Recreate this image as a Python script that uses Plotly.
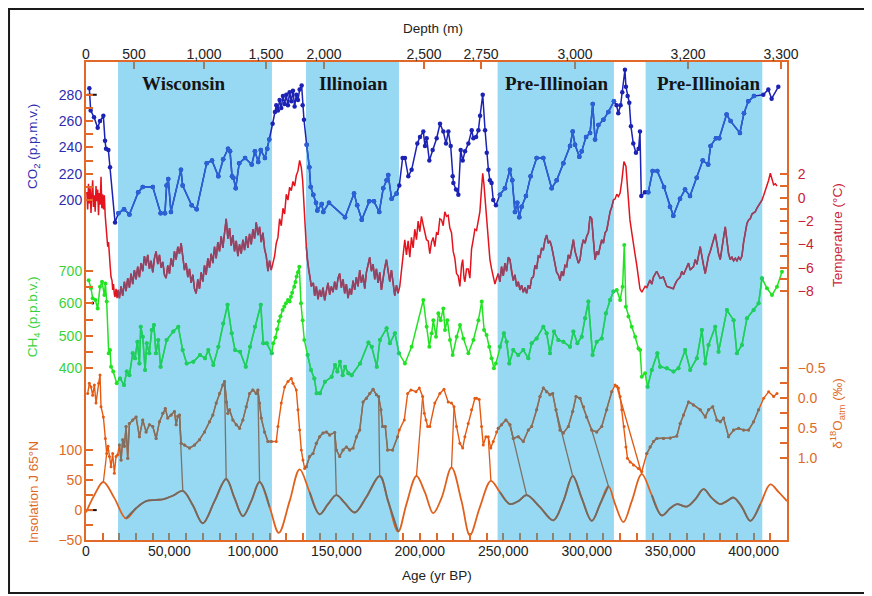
import plotly.graph_objects as go

# ---------------- data (ages in thousands of years BP) ----------------
co2_age = [2.0, 2.8, 4.8, 7.0, 8.4, 10.4, 11.4, 12.0, 13.4, 14.4, 17.4, 19.4, 22.8, 26.0, 31.3, 34.0, 40.0, 44.7,
           47.3, 48.3, 49.3, 50.9, 56.9, 57.9, 63.3, 66.3, 72.3, 75.5, 79.3, 82.2, 85.1, 86.3, 87.5, 88.3, 89.7,
           91.8, 95.3, 99.3, 101.2, 103.2, 104.7, 107.2, 108.6, 109.8, 111.8, 113.2, 114.0, 115.0, 116.0, 117.0,
           118.0, 119.0, 120.0, 121.0, 122.0, 123.0, 124.0, 125.0, 126.0, 127.0, 128.0, 129.2, 129.8, 130.6,
           132.2, 133.8, 134.6, 136.2, 137.8, 138.6, 141.2, 142.2, 145.6, 155.2, 160.6, 162.5, 165.2, 169.7,
           172.5, 175.7, 178.1, 180.1, 181.1, 183.1, 186.1, 187.7, 189.7, 191.1, 193.1, 195.1, 198.5, 200.1,
           202.1, 203.1, 204.1, 205.7, 207.7, 210.1, 212.1, 214.1, 215.7, 217.1, 218.5, 219.7, 220.1, 221.7,
           223.1, 224.5, 225.7, 227.1, 229.1, 231.1, 232.1, 233.7, 235.1, 236.1, 237.7, 239.1, 240.1, 241.1,
           242.0, 243.0, 244.0, 245.6, 248.0, 251.0, 254.0, 255.4, 257.0, 258.4, 259.6, 261.0, 263.6, 266.4,
           270.0, 274.0, 279.0, 282.0, 286.0, 290.0, 291.6, 293.0, 295.6, 297.0, 299.6, 302.0, 303.6, 305.0,
           307.0, 310.0, 313.0, 316.3, 317.9, 318.9, 320.3, 321.3, 322.9, 323.5, 324.5, 325.5, 326.5, 327.9,
           329.5, 331.1, 331.9, 332.7, 334.9, 336.9, 339.5, 342.3, 346.3, 349.9, 351.9, 355.9, 358.9, 361.9,
           365.9, 369.5, 372.8, 374.2, 377.4, 379.4, 383.8, 386.2, 391.8, 394.2, 396.8, 400.2, 405.8, 408.8,
           410.8, 414.8]
co2_ppmv = [285, 268, 263, 255, 260, 264, 245, 239, 238, 225, 183, 190, 193, 189, 206, 210, 210, 190,
            190, 211, 216, 191, 223, 211, 196, 193, 228, 230, 218, 231, 239, 237, 218, 217, 209,
            228, 232, 227, 237, 229, 238, 232, 239, 246, 258, 267, 272, 268, 276, 270,
            279, 273, 280, 272, 282, 275, 283, 271, 280, 276, 284, 287, 272, 261,
            242, 225, 210, 204, 198, 192, 197, 191, 198, 187, 205, 196, 185, 199,
            199, 191, 209, 215, 219, 201, 205, 211, 232, 232, 218, 223, 243, 248,
            252, 241, 247, 230, 238, 247, 258, 252, 243, 252, 241, 218, 213, 208,
            204, 238, 230, 237, 243, 253, 247, 248, 253, 264, 280, 253, 236, 223,
            215, 213, 200, 196, 204, 209, 223, 215, 191, 198, 187, 195, 203, 218,
            232, 232, 209, 215, 228, 241, 252, 242, 233, 237, 248, 251, 273, 246,
            257, 261, 267, 275, 272, 266, 272, 282, 299, 286, 279, 274, 256, 243,
            236, 239, 252, 203, 206, 206, 222, 222, 210, 195, 188, 201, 208, 203,
            217, 230, 227, 241, 247, 247, 265, 260, 251, 266, 275, 279, 280, 284,
            277, 286]

temp_age = [0.5, 1.0, 1.5, 2.0, 2.5, 3.0, 3.5, 4.0, 4.5, 5.0, 5.5, 6.0, 6.5, 7.0, 7.5, 8.0, 8.5, 9.0, 9.5, 10.0,
            10.5, 11.0, 11.5, 12.0, 12.5, 13.0, 13.5, 14.0, 14.5, 15.0, 15.6, 16.0, 16.5, 17.0, 17.4, 18.0, 18.6,
            19.2, 20, 21, 22, 23, 24, 25, 26, 27, 28, 29, 30, 31, 32, 33, 34, 35, 36, 37, 38, 39, 40, 41, 42, 43,
            44, 45, 46, 47, 48, 49, 50, 51, 52, 53, 54, 55, 56, 57, 58, 59, 60, 61, 62, 63, 64, 65, 66, 67, 68,
            69, 70, 71, 72, 73, 74, 75, 76, 77, 78, 79, 80, 81, 82, 83, 84, 85, 86, 87, 88, 89, 90, 91, 92, 93,
            94, 95, 96, 97, 98, 99, 100, 101, 102, 103, 104, 105, 106, 107, 108, 109, 110, 111, 112, 113, 114,
            115, 116, 117, 118, 119, 120, 121, 122, 123, 124, 125, 126, 127, 128, 129, 129.8, 130.5, 131.2, 132,
            132.6, 133.4, 134.2, 135, 136.2, 137, 138, 139, 140, 141, 142, 143, 144, 145, 146, 147, 148, 149, 150,
            151, 152, 153, 154, 155, 156, 157, 158, 159, 160, 161, 162, 163, 164, 165, 166, 167, 168, 169, 170,
            171, 172, 173, 174, 175, 176, 177, 178, 179, 180, 181, 182, 183, 184, 185, 186, 187, 188, 189, 190,
            191, 192, 193, 194, 195, 196, 197, 198, 199, 200, 201, 202, 203, 204, 205, 206, 207, 208, 209, 210,
            211, 212, 213, 214, 215, 216, 217, 218, 219, 220, 221, 222, 223, 224, 225, 225.7, 226.5, 227, 228,
            229, 230, 231, 232, 233, 234, 235, 236, 237, 237.7, 238.4, 239, 240, 241, 242, 243, 244, 245, 246,
            247, 248, 249, 250, 251, 252, 253, 254, 255, 256, 257, 258, 259, 260, 261, 262, 263, 264, 265, 266,
            267, 268, 269, 270, 271, 272, 273, 274, 275, 276, 277, 278, 279, 280, 281, 282, 283, 284, 285, 286,
            287, 288, 289, 290, 291, 292, 293, 294, 295, 296, 297, 298, 299, 300, 301, 302, 303, 304, 305, 306,
            307, 308, 309, 310, 311, 312, 313, 314, 315, 316, 317, 318, 319, 320, 321, 322.3, 323.5, 324.5,
            325.9, 327, 328, 328.9, 330, 331, 331.9, 333, 333.9, 335, 336, 337.9, 339, 340, 341.9, 343, 344,
            345.9, 347, 348, 350, 351.9, 353, 354, 356, 357, 358, 360, 361, 362, 364, 365, 366, 368, 369, 370,
            371, 372, 373, 374, 375, 376, 377, 378, 379, 380, 381, 382, 383, 384, 385, 386, 387, 388, 389, 390,
            391, 392, 393, 394, 395, 396, 397, 398, 399, 400, 401, 402, 403, 404, 405, 406, 407, 408, 409, 410,
            411, 412, 413, 414]
temp_c = [0.5, -1.0, 1.2, -0.5, 0.8, -1.3, 0.3, 1.5, -0.8, 0.2, -1.2, 1.0, -0.3, 0.7, -1.5, 0.4, -0.6, 1.8, -0.9, 0.3,
          -1.0, 0.2, -1.5, -2.2, -3.0, -4.2, -3.8, -5.5, -5.9, -6.8, -7.1, -7.9, -7.4, -8.3, -8.5, -7.8, -8.6,
          -7.9, -8.6, -7.6, -8.4, -7.2, -8.0, -6.9, -7.7, -6.5, -7.4, -6.2, -7.0, -5.9, -6.8, -5.6, -6.3, -5.0,
          -5.8, -4.9, -6.1, -5.4, -6.4, -5.2, -4.6, -5.7, -4.9, -6.0, -5.5, -6.6, -6.9, -5.8, -6.5, -5.2, -5.9,
          -4.6, -5.3, -4.2, -4.8, -3.9, -5.0, -6.2, -5.6, -6.8, -6.1, -7.3, -6.6, -7.8, -8.2, -7.0, -7.8, -6.4,
          -7.2, -5.8, -6.6, -5.2, -6.0, -4.8, -5.6, -4.2, -5.2, -3.8, -4.6, -3.3, -4.3, -2.9, -1.8, -3.5, -2.6,
          -4.1, -3.2, -4.6, -3.7, -5.0, -4.0, -4.8, -3.6, -4.5, -3.3, -4.3, -3.1, -4.0, -2.7, -3.5, -2.1, -3.2,
          -2.5, -3.8, -3.0, -4.4, -5.0, -6.3, -5.4, -6.2, -5.6, -5.0, -3.9, -3.4, -1.8, -2.4, -0.9, -1.4, 0.3,
          -0.2, 0.9, 0.6, 1.4, 1.0, 1.9, 2.3, 3.2, 2.6, 1.5, -0.6, -2.8, -4.2, -5.3, -6.2, -6.8, -7.6, -7.3,
          -8.4, -7.6, -8.7, -7.9, -8.5, -7.7, -8.8, -8.0, -7.3, -8.3, -7.6, -8.1, -7.2, -7.9, -6.9, -6.5, -7.7,
          -7.0, -8.2, -7.4, -8.6, -7.8, -8.3, -7.1, -7.9, -6.8, -7.6, -6.2, -7.3, -6.6, -7.8, -6.4, -5.6, -5.1,
          -6.3, -5.7, -7.0, -6.1, -7.3, -6.4, -7.9, -6.8, -6.0, -5.3, -6.5, -7.2, -6.2, -7.6, -8.4, -7.5, -8.2,
          -7.6, -6.4, -5.3, -3.6, -4.9, -3.7, -5.1, -3.4, -4.3, -2.7, -3.6, -2.0, -2.9, -1.6, -2.3, -2.9, -3.6,
          -3.7, -4.8, -3.8, -3.4, -4.2, -3.0, -3.1, -1.8, -1.9, -2.4, -1.2, -1.6, -1.5, -2.6, -3.0, -4.6, -5.2,
          -6.5, -6.7, -7.6, -5.8, -5.3, -6.9, -7.2, -6.1, -6.1, -6.9, -4.4, -3.6, -2.7, -2.8, -2.0, -1.2, 0.8,
          2.1, 1.2, 0.1, -1.8, -3.6, -5.3, -6.1, -6.8, -7.4, -6.9, -6.5, -7.2, -5.9, -6.7, -5.6, -6.3, -5.1,
          -5.3, -6.4, -7.1, -6.6, -7.6, -7.2, -7.9, -7.5, -8.1, -7.7, -8.2, -7.5, -7.8, -6.9, -6.8, -5.8, -6.1,
          -5.0, -5.1, -4.3, -4.5, -3.6, -3.2, -3.9, -3.7, -4.2, -5.0, -5.6, -6.4, -6.6, -7.1, -6.3, -6.7, -5.8,
          -5.9, -4.9, -5.2, -4.4, -3.6, -4.6, -5.1, -5.6, -5.3, -4.2, -3.6, -3.9, -3.3, -3.0, -1.6, -1.8, -3.6,
          -5.3, -4.6, -4.9, -4.2, -3.6, -3.9, -3.0, -2.8, -1.9, -1.2, -0.8, -0.2, -0.1, 0.3, 0.1, 0.4, 1.4, 3.1,
          2.7, 0.8, -1.9, -3.0, -3.8, -4.8, -5.8, -6.9, -7.8, -8.1, -7.9, -7.6, -7.7, -7.05, -7.4, -6.8, -6.3,
          -6.6, -6.9, -6.8, -7.3, -7.6, -7.7, -7.8, -7.4, -7.1, -6.8, -6.3, -6.6, -5.9, -5.6, -6.2, -5.9, -5.3,
          -5.7, -4.2, -5.2, -5.8, -6.5, -5.6, -5.0, -4.6, -4.0, -3.6, -3.1, -4.0, -4.8, -5.3, -4.2, -3.4, -2.5,
          -3.8, -4.8, -5.3, -5.1, -5.4, -5.2, -5.4, -5.1, -5.3, -5.0, -3.8, -2.8, -2.2, -1.9, -1.8, -1.4, -1.3,
          -1.2, -0.9, -0.7, -0.4, -0.2, 0.2, 0.6, 1.0, 1.5, 2.1, 1.5, 1.1, 1.2, 1.0]

ch4_age = [1.6, 3.0, 4.0, 5.6, 7.0, 8.4, 9.6, 11.0, 11.6, 12.4, 13.6, 14.4, 15.0, 16.3, 18.4, 20.4, 22.8, 24.4,
           26.0, 28.0, 29.4, 30.8, 32.0, 32.8, 34.0, 35.4, 36.4, 37.9, 39.4, 40.7, 41.9, 43.3, 44.7, 48.3, 52.3,
           55.3, 57.9, 60.3, 64.3, 68.3, 71.3, 73.3, 76.3, 79.3, 82.2, 84.8, 87.3, 89.3, 92.3, 95.7, 98.3, 101.2,
           104.7, 106.2, 108.3, 111.3, 112.2, 113.5, 114.5, 115.5, 116.5, 117.8, 118.8, 119.8, 121.0, 122.0,
           122.8, 123.5, 124.8, 125.5, 126.2, 127.0, 127.8, 128.8, 129.8, 130.8, 132.8, 134.8, 136.8, 138.2,
           140.2, 143.2, 147.2, 149.2, 150.6, 152.2, 153.8, 155.2, 157.2, 159.2, 164.2, 169.2, 171.2, 174.2,
           176.1, 180.1, 182.1, 185.1, 187.5, 191.1, 195.1, 202.1, 204.1, 205.7, 207.1, 208.1, 209.7, 211.1,
           212.5, 214.1, 215.1, 216.5, 218.1, 219.7, 222.1, 224.1, 226.1, 229.1, 232.1, 235.1, 237.1, 238.5,
           240.0, 241.6, 243.0, 244.4, 245.6, 248.0, 250.4, 252.0, 253.6, 256.0, 259.0, 262.0, 265.0, 267.0,
           270.0, 274.0, 276.0, 278.0, 280.4, 283.0, 286.0, 290.0, 292.0, 294.4, 297.0, 299.0, 301.0, 303.5,
           306.0, 309.0, 311.5, 314.0, 316.0, 318.0, 320.0, 321.5, 322.5, 323.5, 325.0, 327.0, 329.0, 331.0,
           332.0, 333.0, 335.0, 336.5, 339.0, 342.3, 344.0, 348.0, 352.0, 355.0, 359.0, 362.0, 366.0, 369.0,
           371.0, 373.0, 377.0, 379.0, 384.0, 388.0, 390.0, 393.0, 396.0, 400.0, 403.0, 405.0, 408.0, 411.0,
           414.0, 417.0]
ch4_ppbv = [671, 646, 615, 610, 584, 651, 666, 625, 661, 605, 446, 456, 405, 390, 354, 369, 349, 390,
            379, 446, 431, 482, 415, 528, 497, 395, 477, 446, 518, 533, 446, 487, 405, 487, 513,
            528, 456, 415, 420, 441, 431, 456, 410, 466, 538, 595, 508, 456, 451, 405, 466, 528,
            595, 477, 477, 446, 477, 495, 520, 545, 560, 579, 590, 600, 610, 605,
            620, 632, 651, 665, 682, 695, 712, 600, 548, 487, 441, 395, 369, 323,
            323, 359, 374, 410, 390, 420, 379, 405, 385, 379, 415, 479, 466, 405,
            487, 523, 477, 508, 446, 415, 466, 610, 528, 466, 508, 548, 497, 569,
            548, 584, 518, 548, 487, 441, 497, 533, 492, 446, 487, 548, 605, 518,
            502, 466, 431, 400, 415, 466, 508, 482, 415, 456, 441, 456, 431, 477,
            492, 528, 508, 446, 513, 487, 482, 466, 513, 477, 497, 554, 605, 441,
            482, 492, 569, 610, 636, 641, 610, 651, 779, 589, 559, 528, 497, 461,
            456, 374, 385, 343, 395, 446, 405, 400, 390, 400, 456, 395, 431, 518,
            415, 472, 528, 451, 579, 548, 446, 472, 554, 579, 600, 677, 646, 625,
            651, 697]

d18o_age = [1.0, 2.0, 3.0, 4.0, 5.0, 6.0, 7.6, 8.4, 9.0, 10.4, 11.6, 12.4, 13.2, 14.0, 15.0, 16.0, 17.0, 18.0,
            19.0, 20.0, 21.0, 22.0, 23.0, 24.0, 25.0, 26.0, 28.0, 30.0, 32.0, 34.0, 36.0, 38.0, 40.0, 42.0, 44.0,
            46.0, 47.5, 49.0, 51.0, 53.0, 54.0, 55.0, 56.0, 57.0, 59.0, 62.0, 65.0, 68.0, 71.0, 74.0, 76.0, 78.0,
            80.0, 82.0, 83.0, 84.0, 85.0, 86.0, 88.0, 90.0, 92.0, 94.0, 96.0, 98.0, 100.0, 102.0, 103.0, 104.0,
            105.0, 107.0, 109.0, 111.0, 114.0, 115.0, 117.0, 119.0, 121.0, 123.0, 124.0, 126.0, 127.0, 128.0,
            129.0, 130.0, 131.0, 132.0, 134.0, 136.0, 138.0, 140.0, 142.0, 144.0, 146.0, 149.0, 150.0, 152.0,
            154.0, 156.0, 158.0, 160.0, 162.0, 164.0, 166.0, 168.0, 170.0, 172.0, 174.0, 175.3, 176.7, 177.7,
            179.3, 180.7, 183.7, 186.7, 187.7, 190.7, 192.7, 194.7, 197.7, 199.7, 201.7, 202.7, 203.7, 204.7,
            206.0, 209.0, 212.0, 214.5, 217.0, 219.0, 220.5, 222.0, 224.0, 225.7, 227.0, 229.0, 231.0, 233.0,
            234.0, 235.6, 237.0, 238.0, 239.6, 241.0, 242.5, 244.0, 246.0, 247.0, 249.0, 251.6, 254.0, 256.0,
            259.0, 262.0, 265.0, 267.0, 270.0, 272.0, 274.0, 276.0, 278.0, 279.6, 281.6, 284.0, 286.0, 289.0,
            291.6, 293.6, 296.0, 298.0, 300.0, 303.0, 306.0, 309.0, 312.0, 315.0, 317.0, 318.0, 319.0, 320.0,
            321.0, 322.4, 323.5, 324.4, 326.0, 328.0, 331.0, 333.0, 336.0, 338.0, 340.0, 342.0, 346.0, 350.0,
            354.0, 356.0, 358.0, 361.0, 364.0, 368.0, 371.0, 373.0, 375.5, 378.0, 380.0, 382.0, 385.0, 388.0,
            391.0, 394.0, 397.0, 400.0, 403.0, 406.0, 409.0, 412.0, 414.0]
d18o_permil = [-0.08, -0.25, -0.19, -0.05, -0.22, 0.08, -0.25, -0.39, 0.14, 0.31, 0.67, 0.92, 0.80, 0.97, 1.14,
               0.92, 1.25, 0.97, 0.94, 0.78, 1.03, 0.69, 0.80, 0.47, 1.00, 0.42, 0.36, 0.31, 0.64, 0.36, 0.56,
               0.44, 0.47, 0.67, 0.39, 0.25, 0.17, 0.33, 0.28, 0.22, 0.44, 0.30, 0.28, 0.75, 0.78, 0.83, 0.78,
               0.69, 0.56, 0.39, 0.28, 0.08, -0.08, -0.22, -0.28, 0.06, 0.25, 0.19, 0.36, 0.44, 0.50, 0.36, 0.14,
               -0.08, -0.14, -0.08, -0.14, 0.08, 0.33, 0.56, 0.72, 0.72, 0.72, 0.47, 0.08, -0.19, -0.28, -0.33,
               -0.25, -0.14, 0.19, 0.53, 0.86, 1.03, 1.17, 1.14, 0.97, 0.92, 0.75, 0.64, 0.58, 0.56, 0.61, 0.57,
               0.86, 0.97, 0.86, 0.81, 0.86, 0.83, 0.64, 0.53, 0.06, 0.00, -0.08, -0.15, -0.06, -0.03, 0.19,
               0.47, 0.47, 0.86, 0.86, 0.64, 0.53, 0.36, -0.08, -0.14, -0.11, -0.17, -0.03, 0.25, 0.36, 0.47,
               0.47, 0.08, -0.08, -0.15, 0.06, 0.08, 0.14, 0.47, 0.75, 0.83, 0.64, 0.42, 0.19, 0.00, 0.00, 0.02,
               0.47, 0.78, 0.64, 0.64, 0.83, 0.72, 0.56, 0.50, 0.44, 0.36, 0.44, 0.67, 0.64, 0.72, 0.53, 0.47,
               0.19, -0.03, -0.17, -0.11, -0.06, -0.08, 0.19, 0.53, 0.58, 0.47, 0.22, -0.03, 0.00, 0.14, 0.31,
               0.53, 0.56, 0.47, 0.19, -0.11, -0.22, -0.20, -0.17, -0.03, 0.19, 0.47, 0.81, 1.00, 1.06, 1.11,
               1.17, 1.22, 0.92, 0.81, 0.72, 0.67, 0.67, 0.66, 0.63, 0.42, 0.28, 0.06, 0.11, 0.19, 0.31, 0.19,
               0.14, 0.36, 0.39, 0.33, 0.64, 0.53, 0.50, 0.53, 0.53, 0.39, 0.19, 0.00, -0.11, -0.03, -0.08]

insol_age = [0, 5, 10.4, 17, 24, 30, 36, 42, 46, 52, 58, 64, 70, 77, 84, 89, 94, 99, 104, 110, 115.5, 122, 128,
             134, 140, 145, 150, 155, 161, 168, 176, 181, 187, 192, 198, 203, 208, 213, 219, 225, 230, 236, 242.6,
             248, 254, 259, 264, 272, 280, 286, 291.6, 297, 303, 308, 313, 317, 322, 327, 333, 339, 345, 350, 354,
             360, 365, 370, 375, 380, 384, 388, 393, 398, 404, 410, 415, 420]
insol_wm2 = [-4, 25, 47, 20, -14, 3, 15, 17, 18, 24, 32, 8, -22, 15, 52, 20, -10, 15, 47, 5, -38, 15, 68,
             30, -7, 10, 25, 12, -4, 22, 57, 15, -36, 10, 57, 30, -5, 20, 71, 15, -42, 5, 49,
             30, 10, 15, 25, 5, -17, 15, 57, 20, -18, 10, 40, 10, -20, 15, 60, 25, -9, 3, 10,
             6, 18, 35, 20, 10, 15, 21, 5, -18, 10, 43, 30, 15]

# tie lines joining d18O features to insolation peaks
tie_d18o_age = [12.4, 56.0, 83.0, 103.0, 149.0, 175.3, 201.7, 220.5, 241.0, 254.0, 281.6, 303.0, 318.0]
tie_d18o_val = [0.92, 0.28, -0.28, -0.14, 0.57, -0.03, -0.03, 0.14, 0.64, 0.44, 0.19, 0.53, -0.20]
tie_insol_age = [10.4, 58.0, 84.0, 104.0, 150.0, 176.0, 198.0, 219.0, 242.6, 264.0, 291.6, 313.0, 333.0]
tie_insol_val = [47, 32, 52, 47, 25, 57, 57, 71, 49, 25, 57, 40, 60]

# present-day reference marks
present_co2 = [3.5, 280]
present_ch4 = [4.0, 601]
present_insol = [3.5, 0]

region_start = [19.2, 131.8, 246.6, 335.3]
region_end = [111.4, 187.5, 316.3, 405.2]
region_names = ["Wisconsin", "Illinoian", "Pre-Illinoian", "Pre-Illinoian"]
region_label_age = [58.7, 160.0, 282.0, 373.0]

depth_labels = ["0", "500", "1,000", "1,500", "2,000", "2,500", "2,750", "3,000", "3,200", "3,300"]
depth_label_age = [0, 28.76, 70.70, 107.85, 142.60, 202.51, 236.66, 292.98, 360.68, 416.40]

age_labels = ["0", "50,000", "100,000", "150,000", "200,000", "250,000", "300,000", "350,000", "400,000"]
age_label_vals = [0, 50000, 100000, 150000, 200000, 250000, 300000, 350000, 400000]

# ---------------- layout constants ----------------
X_RANGE = [0, 420000]
CO2_RANGE = [-58.3, 304.9]
TEMP_RANGE = [-29.33, 11.63]
CH4_RANGE = [-127.8, 1341.6]
D18O_RANGE = [2.362, -5.605]
INSOL_RANGE = [-50, 749.3]

SHADE = "#97d9f3"
AXC = "#e0692a"
GRAYTICK = "#8a8378"
FONT = "Liberation Sans, Arial, sans-serif"


def in_regions(a):
    return any(s <= a <= e for s, e in zip(region_start, region_end))


fig = go.Figure()


def add_series(ages, vals, yaxis, c_out, c_in, msize=0, width=1.5, shape="linear"):
    x = [a * 1000 for a in ages]
    mode = "lines+markers" if msize else "lines"
    fig.add_trace(go.Scatter(x=x, y=vals, mode=mode, yaxis=yaxis, line=dict(color=c_out, width=width, shape=shape),
                             marker=dict(size=msize, color=c_out), hoverinfo="skip", showlegend=False))
    vin = [v if in_regions(a) else None for a, v in zip(ages, vals)]
    fig.add_trace(go.Scatter(x=x, y=vin, mode=mode, yaxis=yaxis, connectgaps=False,
                             line=dict(color=c_in, width=width, shape=shape),
                             marker=dict(size=msize, color=c_in), hoverinfo="skip", showlegend=False))


add_series(co2_age, co2_ppmv, "y", "#1c22b4", "#2a62d6", msize=4.5, width=1.5)
add_series(temp_age, temp_c, "y2", "#e3141e", "#8c4668", width=1.5)
add_series(ch4_age, ch4_ppbv, "y3", "#22e322", "#1fcc66", msize=4, width=1.5)
add_series(d18o_age, d18o_permil, "y4", "#e55a12", "#7d7166", msize=3, width=1.4)
add_series(insol_age, insol_wm2, "y5", "#e0611c", "#6e6a65", width=1.8, shape="spline")


# tie lines (drawn on the insolation axis; d18O ends converted via the two axis scales)
def d18o_to_insol(v):
    frac = (v - D18O_RANGE[0]) / (D18O_RANGE[1] - D18O_RANGE[0])
    return INSOL_RANGE[0] + frac * (INSOL_RANGE[1] - INSOL_RANGE[0])


for a0, v0, a1, v1 in zip(tie_d18o_age, tie_d18o_val, tie_insol_age, tie_insol_val):
    col = "#7d7166" if in_regions((a0 + a1) / 2) else "#e05a14"
    fig.add_trace(go.Scatter(x=[a0 * 1000, a1 * 1000], y=[d18o_to_insol(v0), v1], mode="lines", yaxis="y5",
                             line=dict(color=col, width=1.3), hoverinfo="skip", showlegend=False))

# present-day marks
fig.add_trace(go.Scatter(x=[present_co2[0] * 1000], y=[present_co2[1]], yaxis="y", mode="markers",
                         marker=dict(symbol="line-ew", size=7, line=dict(color="#111", width=2)), showlegend=False))
fig.add_trace(go.Scatter(x=[present_ch4[0] * 1000], y=[present_ch4[1]], yaxis="y3", mode="markers",
                         marker=dict(symbol="circle", size=3, color="#111"), showlegend=False))
fig.add_trace(go.Scatter(x=[present_insol[0] * 1000], y=[present_insol[1]], yaxis="y5", mode="markers",
                         marker=dict(symbol="line-ew", size=7, line=dict(color="#111", width=2)), showlegend=False))

# empty helper traces so that the extra x axes (depth labels, tick rows) are rendered
for xa in ["x2", "x3", "x4", "x5", "x6"]:
    fig.add_trace(go.Scatter(x=X_RANGE, y=[None, None], xaxis=xa, yaxis="y", mode="lines",
                             hoverinfo="skip", showlegend=False))

# shaded glacial periods
shapes = []
for s, e in zip(region_start, region_end):
    shapes.append(dict(type="rect", xref="x", yref="paper", x0=s * 1000, x1=e * 1000, y0=0, y1=1,
                       fillcolor=SHADE, line=dict(width=0), layer="below"))
# outer picture frame
shapes.append(dict(type="rect", xref="paper", yref="paper", x0=-0.1098, x1=1.1184, y0=-0.1109, y1=1.1109,
                   line=dict(color="#1a1a1a", width=2), fillcolor="rgba(0,0,0,0)", layer="above"))

annotations = []
for name, a in zip(region_names, region_label_age):
    annotations.append(dict(x=a * 1000, xref="x", y=0.954, yref="paper", text="<b>%s</b>" % name, showarrow=False,
                            xanchor="center", yanchor="middle",
                            font=dict(family="Liberation Serif, Times New Roman, serif", size=19, color="#151515")))

axis_titles = [
    ("CO<sub>2</sub> (p.p.m.v.)", -0.0756, 0.822, "#2d2db0"),
    ("CH<sub>4</sub> (p.p.b.v.)", -0.0756, 0.466, "#3ad23a"),
    ("Insolation J 65°N", -0.0756, 0.100, "#de6a28"),
    ("Temperature (°C)", 1.0713, 0.638, "#c82236"),
    ("δ<sup>18</sup>O<sub>atm</sub> (‰)", 1.0713, 0.266, "#de6a28"),
]
for txt, x, y, c in axis_titles:
    annotations.append(dict(x=x, y=y, xref="paper", yref="paper", text=txt, textangle=-90, showarrow=False,
                            xanchor="center", yanchor="middle", font=dict(family=FONT, size=13.5, color=c)))
annotations.append(dict(x=0.495, y=1.071, xref="paper", yref="paper", text="Depth (m)", showarrow=False,
                        xanchor="center", yanchor="middle", font=dict(family=FONT, size=13.5, color="#222")))
annotations.append(dict(x=0.5007, y=-0.0753, xref="paper", yref="paper", text="Age (yr BP)", showarrow=False,
                        xanchor="center", yanchor="middle", font=dict(family=FONT, size=13.5, color="#222")))

# tick position lists
minor_age_ticks = list(range(0, 420001, 10000))
bot_out = [t for t in minor_age_ticks if not in_regions(t / 1000)]
bot_in = [t for t in minor_age_ticks if in_regions(t / 1000)]
top_vals = [a * 1000 for a in depth_label_age]
top_out = [t for t in top_vals if not in_regions(t / 1000)]
top_in = [t for t in top_vals if in_regions(t / 1000)]


def xtick_axis(side, vals, color):
    return dict(overlaying="x", side=side, anchor="y", range=X_RANGE, tickvals=vals, ticktext=[""] * len(vals),
                ticks="inside", ticklen=7, tickwidth=1.5, tickcolor=color, showticklabels=False, showline=False,
                showgrid=False, zeroline=False)


def yaxis_def(rng, labeled, minor, labels, color, side, overlay=True):
    vals = labeled + minor
    d = dict(range=rng, side=side, anchor="x", tickvals=vals, ticktext=labels + [""] * len(minor),
             ticks="inside", ticklen=7, tickwidth=1.5, tickcolor=AXC, showgrid=False, zeroline=False,
             showline=True, linecolor=AXC, linewidth=2, tickfont=dict(family=FONT, size=14, color=color),
             ticklabelstandoff=-1 if side == "left" else 6)
    if overlay:
        d["overlaying"] = "y"
    return d


# the page body adds an 8 px offset, so the figure is sized to fill the rest of the window
fig.update_layout(
    width=864, height=588,
    margin=dict(l=78, r=85, t=54, b=56),
    paper_bgcolor="white", plot_bgcolor="white",
    font=dict(family=FONT),
    showlegend=False,
    shapes=shapes, annotations=annotations,
    xaxis=dict(range=X_RANGE, tickvals=age_label_vals, ticktext=age_labels, ticks="", showgrid=False,
               zeroline=False, showline=True, linecolor=AXC, linewidth=2, mirror=False, ticklabelstandoff=-3,
               tickfont=dict(family=FONT, size=14, color="#222")),
    xaxis2=dict(overlaying="x", side="top", anchor="y", range=X_RANGE, tickvals=top_vals, ticktext=depth_labels,
                ticks="", showgrid=False, zeroline=False, showline=True, linecolor=AXC, linewidth=2,
                showticklabels=True, ticklabelstandoff=-5, tickfont=dict(family=FONT, size=14, color="#222")),
    xaxis3=xtick_axis("bottom", bot_out, AXC),
    xaxis4=xtick_axis("bottom", bot_in, GRAYTICK),
    xaxis5=xtick_axis("top", top_out, AXC),
    xaxis6=xtick_axis("top", top_in, GRAYTICK),
    yaxis=yaxis_def(CO2_RANGE, [200, 220, 240, 260, 280], [210, 230, 250, 270], ["200", "220", "240", "260", "280"],
                    "#2d2db0", "left", overlay=False),
    yaxis2=yaxis_def(TEMP_RANGE, [2, 0, -2, -4, -6, -8], [1, -1, -3, -5, -7],
                     ["2", "0", "−2", "−4", "−6", "−8"], "#c82236", "right"),
    yaxis3=yaxis_def(CH4_RANGE, [400, 500, 600, 700], [450, 550, 650], ["400", "500", "600", "700"],
                     "#3ad23a", "left"),
    yaxis4=yaxis_def(D18O_RANGE, [-0.5, 0.0, 0.5, 1.0], [-0.25, 0.25, 0.75], ["−0.5", "0.0", "0.5", "1.0"],
                     "#de6a28", "right"),
    yaxis5=yaxis_def(INSOL_RANGE, [-50, 0, 50, 100], [-25, 25, 75], ["−50", "0", "50", "100"],
                     "#de6a28", "left"),
)

fig.write_html("out.html")
